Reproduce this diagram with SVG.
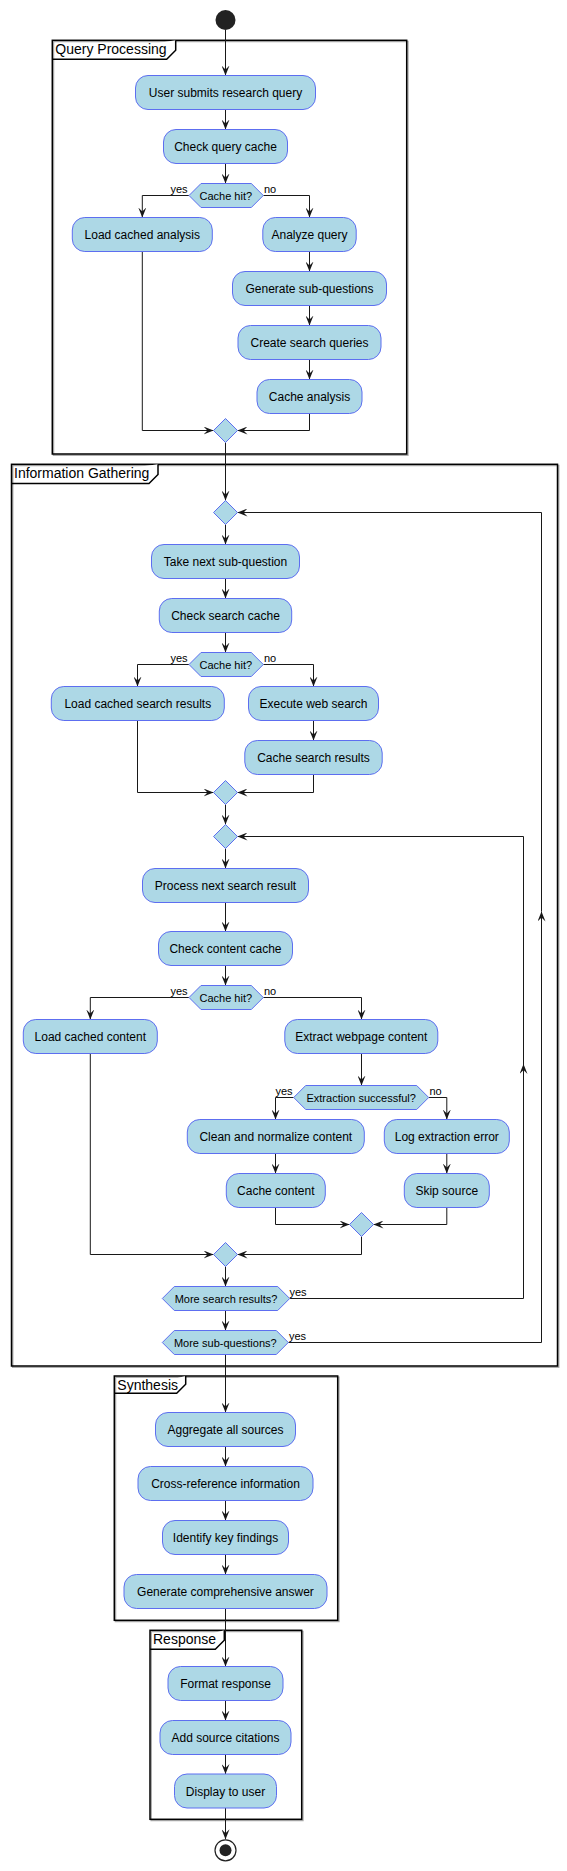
<svg xmlns="http://www.w3.org/2000/svg" width="567" height="1871" viewBox="0 0 567 1871">
<style>
.act{fill:#ADD8E6;stroke:#5D6EF0;stroke-width:1}
.t{font-family:"Liberation Sans",Arial,sans-serif;font-size:12px;fill:#000;text-anchor:middle}
.d{font-family:"Liberation Sans",Arial,sans-serif;font-size:11px;fill:#000;text-anchor:middle}
.l{font-family:"Liberation Sans",Arial,sans-serif;font-size:11px;fill:#000}
.f{fill:none;stroke:#000;stroke-width:1.5}
.fs{fill:none;stroke:#aaa;stroke-width:1.5}
.tab{fill:#fff;stroke:#000;stroke-width:1.5}
.ft{font-family:"Liberation Sans",Arial,sans-serif;font-size:14px;fill:#000}
.c{fill:none;stroke:#181818;stroke-width:1}
.a{marker-end:url(#arr)}
</style>
<defs>
<marker id="arr" viewBox="0 0 10 8" refX="10" refY="4" markerWidth="10" markerHeight="8" markerUnits="userSpaceOnUse" orient="auto">
<path d="M0,0 L10,4 L0,8 L4,4 Z" fill="#181818"/>
</marker>
</defs>

<g id="frames">
<g id="frame-query">
<rect class="fs" x="53.5" y="41.5" width="354.4" height="413.7"/>
<rect class="f" x="52.3" y="40.3" width="354.4" height="413.7"/>
<path class="tab" d="M52.3,59.3 L166.7,59.3 L175.7,50.3 L175.7,40.3"/>
<text class="ft" x="55.3" y="54.3">Query Processing</text>
</g>
<g id="frame-info">
<rect class="fs" x="12.7" y="465.5" width="546" height="901.7"/>
<rect class="f" x="11.5" y="464.3" width="546" height="901.7"/>
<path class="tab" d="M11.5,483.5 L149,483.5 L158,474.5 L158,464.3"/>
<text class="ft" x="14" y="477.8">Information Gathering</text>
</g>
<g id="frame-synthesis">
<rect class="fs" x="115.5" y="1377.2" width="223.4" height="244.3"/>
<rect class="f" x="114.3" y="1376" width="223.4" height="244.3"/>
<path class="tab" d="M114.3,1393.3 L176.7,1393.3 L185.7,1384.3 L185.7,1376"/>
<text class="ft" x="117.3" y="1389.5">Synthesis</text>
</g>
<g id="frame-response">
<rect class="fs" x="151.2" y="1631.5" width="151.7" height="189"/>
<rect class="f" x="150" y="1630.3" width="151.7" height="189"/>
<path class="tab" d="M150,1649.3 L215.3,1649.3 L224.3,1640.3 L224.3,1630.3"/>
<text class="ft" x="153" y="1643.5">Response</text>
</g>
</g>

<g id="connectors">
<path class="c a" d="M225.5,30 V75.5"/>
<path class="c a" d="M225.5,109.5 V129.5"/>
<path class="c a" d="M225.5,163.5 V183.5"/>
<path class="c a" d="M189,195.5 H142.3 V217.5"/>
<path class="c a" d="M263.3,195.5 H309.5 V217.5"/>
<path class="c a" d="M309.5,251.5 V271.5"/>
<path class="c a" d="M309.5,305.5 V325.5"/>
<path class="c a" d="M309.5,359.5 V379.5"/>
<path class="c a" d="M142.3,251.5 V430.5 H213.5"/>
<path class="c a" d="M309.5,413.5 V430.5 H237.5"/>
<path class="c a" d="M225.5,442.5 V500.5"/>
<path class="c a" d="M225.5,524.5 V544.5"/>
<path class="c a" d="M225.5,578.5 V598.5"/>
<path class="c a" d="M225.5,632.5 V652.5"/>
<path class="c a" d="M189,664.5 H137.5 V686.5"/>
<path class="c a" d="M263.3,664.5 H313.5 V686.5"/>
<path class="c a" d="M313.5,720.5 V740.5"/>
<path class="c a" d="M137.5,720.5 V792.5 H213.5"/>
<path class="c a" d="M313.5,774.5 V792.5 H237.5"/>
<path class="c a" d="M225.5,804.5 V824.5"/>
<path class="c a" d="M225.5,848.5 V868.5"/>
<path class="c a" d="M225.5,902.5 V931.5"/>
<path class="c a" d="M225.5,965.5 V985.5"/>
<path class="c a" d="M189,997.5 H90.3 V1019.5"/>
<path class="c a" d="M263.3,997.5 H361.5 V1019.5"/>
<path class="c a" d="M361.5,1053.5 V1085.5"/>
<path class="c a" d="M293.7,1097.5 H275.5 V1119.5"/>
<path class="c a" d="M428.7,1097.5 H446.8 V1119.5"/>
<path class="c a" d="M275.5,1153.5 V1173.5"/>
<path class="c a" d="M446.8,1153.5 V1173.5"/>
<path class="c a" d="M275.5,1207.5 V1224.5 H349.5"/>
<path class="c a" d="M446.8,1207.5 V1224.5 H373.5"/>
<path class="c a" d="M361.5,1236.5 V1254.5 H237.5"/>
<path class="c a" d="M90.3,1053.5 V1254.5 H213.5"/>
<path class="c a" d="M225.5,1266.5 V1286.5"/>
<path class="c a" d="M225.5,1310.5 V1330.5"/>
<path class="c a" d="M289.7,1298.5 H523.5 V1064"/>
<path class="c a" d="M523.5,1064 V836.5 H237.5"/>
<path class="c a" d="M288.3,1342.5 H541.5 V911.5"/>
<path class="c a" d="M541.5,911.5 V512.5 H237.5"/>
<path class="c a" d="M225.5,1354.5 V1412.5"/>
<path class="c a" d="M225.5,1446.5 V1466.5"/>
<path class="c a" d="M225.5,1500.5 V1520.5"/>
<path class="c a" d="M225.5,1554.5 V1574.5"/>
<path class="c a" d="M225.5,1608.5 V1666.5"/>
<path class="c a" d="M225.5,1700.5 V1720.5"/>
<path class="c a" d="M225.5,1754.5 V1774"/>
<path class="c a" d="M225.5,1808 V1839.3"/>
</g>

<g id="start"><circle cx="225.5" cy="20" r="10" fill="#222"/></g>

<g id="n-user-submits"><rect class="act" x="135.5" y="75.5" width="180" height="34" rx="12.5"/><text class="t" x="225.5" y="97">User submits research query</text></g>
<g id="n-check-query-cache"><rect class="act" x="163.5" y="129.5" width="124" height="34" rx="12.5"/><text class="t" x="225.5" y="151">Check query cache</text></g>
<g id="d-query-cache"><polygon class="act" points="189,195.5 201,183.5 251.3,183.5 263.3,195.5 251.3,207.5 201,207.5"/><text class="d" x="225.8" y="199.5">Cache hit?</text><text class="l" x="187.5" y="192.5" text-anchor="end">yes</text><text class="l" x="264" y="192.5">no</text></g>
<g id="n-load-cached-analysis"><rect class="act" x="72.3" y="217.5" width="140" height="34" rx="12.5"/><text class="t" x="142.3" y="239">Load cached analysis</text></g>
<g id="n-analyze-query"><rect class="act" x="262.8" y="217.5" width="93.4" height="34" rx="12.5"/><text class="t" x="309.5" y="239">Analyze query</text></g>
<g id="n-generate-subq"><rect class="act" x="232.5" y="271.5" width="154" height="34" rx="12.5"/><text class="t" x="309.5" y="293">Generate sub-questions</text></g>
<g id="n-create-queries"><rect class="act" x="238" y="325.5" width="143" height="34" rx="12.5"/><text class="t" x="309.5" y="347">Create search queries</text></g>
<g id="n-cache-analysis"><rect class="act" x="257" y="379.5" width="105" height="34" rx="12.5"/><text class="t" x="309.5" y="401">Cache analysis</text></g>
<g id="m-query"><polygon class="act" points="225.5,418.5 237.5,430.5 225.5,442.5 213.5,430.5"/></g>

<g id="m-subq-loop"><polygon class="act" points="225.5,500.5 237.5,512.5 225.5,524.5 213.5,512.5"/></g>
<g id="n-take-next-subq"><rect class="act" x="151.5" y="544.5" width="148" height="34" rx="12.5"/><text class="t" x="225.5" y="566">Take next sub-question</text></g>
<g id="n-check-search-cache"><rect class="act" x="159.3" y="598.5" width="132.4" height="34" rx="12.5"/><text class="t" x="225.5" y="620">Check search cache</text></g>
<g id="d-search-cache"><polygon class="act" points="189,664.5 201,652.5 251.3,652.5 263.3,664.5 251.3,676.5 201,676.5"/><text class="d" x="225.8" y="668.5">Cache hit?</text><text class="l" x="187.5" y="661.5" text-anchor="end">yes</text><text class="l" x="264" y="661.5">no</text></g>
<g id="n-load-cached-search"><rect class="act" x="51.3" y="686.5" width="173" height="34" rx="12.5"/><text class="t" x="137.8" y="708">Load cached search results</text></g>
<g id="n-execute-search"><rect class="act" x="248.5" y="686.5" width="130" height="34" rx="12.5"/><text class="t" x="313.5" y="708">Execute web search</text></g>
<g id="n-cache-search"><rect class="act" x="244.8" y="740.5" width="137.4" height="34" rx="12.5"/><text class="t" x="313.5" y="762">Cache search results</text></g>
<g id="m-search"><polygon class="act" points="225.5,780.5 237.5,792.5 225.5,804.5 213.5,792.5"/></g>
<g id="m-result-loop"><polygon class="act" points="225.5,824.5 237.5,836.5 225.5,848.5 213.5,836.5"/></g>
<g id="n-process-result"><rect class="act" x="142.5" y="868.5" width="166" height="34" rx="12.5"/><text class="t" x="225.5" y="890">Process next search result</text></g>
<g id="n-check-content-cache"><rect class="act" x="158.5" y="931.5" width="134" height="34" rx="12.5"/><text class="t" x="225.5" y="953">Check content cache</text></g>
<g id="d-content-cache"><polygon class="act" points="189,997.5 201,985.5 251.3,985.5 263.3,997.5 251.3,1009.5 201,1009.5"/><text class="d" x="225.8" y="1001.5">Cache hit?</text><text class="l" x="187.5" y="994.5" text-anchor="end">yes</text><text class="l" x="264" y="994.5">no</text></g>
<g id="n-load-cached-content"><rect class="act" x="23.3" y="1019.5" width="134" height="34" rx="12.5"/><text class="t" x="90.3" y="1041">Load cached content</text></g>
<g id="n-extract"><rect class="act" x="284.8" y="1019.5" width="153" height="34" rx="12.5"/><text class="t" x="361.3" y="1041">Extract webpage content</text></g>
<g id="d-extract"><polygon class="act" points="293.7,1097.5 305.7,1085.5 416.7,1085.5 428.7,1097.5 416.7,1109.5 305.7,1109.5"/><text class="d" x="361.2" y="1101.5">Extraction successful?</text><text class="l" x="292.5" y="1094.5" text-anchor="end">yes</text><text class="l" x="429.5" y="1094.5">no</text></g>
<g id="n-clean"><rect class="act" x="187.3" y="1119.5" width="177" height="34" rx="12.5"/><text class="t" x="275.8" y="1141">Clean and normalize content</text></g>
<g id="n-cache-content"><rect class="act" x="226.3" y="1173.5" width="99" height="34" rx="12.5"/><text class="t" x="275.8" y="1195">Cache content</text></g>
<g id="n-log-error"><rect class="act" x="384.3" y="1119.5" width="125" height="34" rx="12.5"/><text class="t" x="446.8" y="1141">Log extraction error</text></g>
<g id="n-skip"><rect class="act" x="404.3" y="1173.5" width="85" height="34" rx="12.5"/><text class="t" x="446.8" y="1195">Skip source</text></g>
<g id="m-extract"><polygon class="act" points="361.5,1212.5 373.5,1224.5 361.5,1236.5 349.5,1224.5"/></g>
<g id="m-content"><polygon class="act" points="225.5,1242.5 237.5,1254.5 225.5,1266.5 213.5,1254.5"/></g>
<g id="d-more-results"><polygon class="act" points="162.3,1298.5 174.3,1286.5 277.7,1286.5 289.7,1298.5 277.7,1310.5 174.3,1310.5"/><text class="d" x="226" y="1302.5">More search results?</text><text class="l" x="289.5" y="1295.5">yes</text></g>
<g id="d-more-subq"><polygon class="act" points="162.3,1342.5 174.3,1330.5 276.3,1330.5 288.3,1342.5 276.3,1354.5 174.3,1354.5"/><text class="d" x="225.3" y="1346.5">More sub-questions?</text><text class="l" x="289" y="1339.5">yes</text></g>

<g id="n-aggregate"><rect class="act" x="155.5" y="1412.5" width="140" height="34" rx="12.5"/><text class="t" x="225.5" y="1434">Aggregate all sources</text></g>
<g id="n-crossref"><rect class="act" x="138" y="1466.5" width="175" height="34" rx="12.5"/><text class="t" x="225.5" y="1488">Cross-reference information</text></g>
<g id="n-identify"><rect class="act" x="162.5" y="1520.5" width="126" height="34" rx="12.5"/><text class="t" x="225.5" y="1542">Identify key findings</text></g>
<g id="n-generate-answer"><rect class="act" x="124" y="1574.5" width="203" height="34" rx="12.5"/><text class="t" x="225.5" y="1596">Generate comprehensive answer</text></g>

<g id="n-format"><rect class="act" x="168" y="1666.5" width="115" height="34" rx="12.5"/><text class="t" x="225.5" y="1688">Format response</text></g>
<g id="n-citations"><rect class="act" x="160" y="1720.5" width="131" height="34" rx="12.5"/><text class="t" x="225.5" y="1742">Add source citations</text></g>
<g id="n-display"><rect class="act" x="174.5" y="1774" width="102" height="34" rx="12.5"/><text class="t" x="225.5" y="1795.5">Display to user</text></g>

<g id="end"><circle cx="225.5" cy="1850.3" r="10.5" fill="#fff" stroke="#222" stroke-width="1.2"/><circle cx="225.5" cy="1850.3" r="6" fill="#222"/></g>
</svg>
